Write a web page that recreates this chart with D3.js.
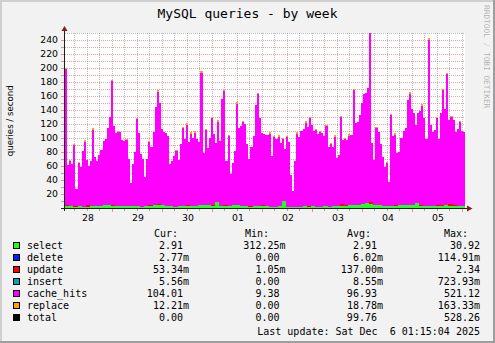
<!DOCTYPE html>
<html><head><meta charset="utf-8">
<script src="https://cdn.jsdelivr.net/npm/d3@7"></script>
<style>
html,body{margin:0;padding:0;background:#F2F2F2;}
svg{display:block;}
text{white-space:pre;}
</style></head><body>
<svg id="c" width="495" height="343"></svg>
<script>
// ---------- data ----------
const chartTitle = "MySQL queries - by week";
const yAxisTitle = "queries / second";
const watermark = "RRDTOOL / TOBI OETIKER";
const startTime = Date.UTC(2025, 10, 28, 1, 15);
const endTime = Date.UTC(2025, 11, 6, 1, 15);
const dayLabels = ["28", "29", "30", "01", "02", "03", "04", "05"];
const yTickValues = [20, 40, 60, 80, 100, 120, 140, 160, 180, 200, 220, 240];

// cache_hits, hourly samples
const cacheHits = [
 195, 58, 65, 60, 88, 25, 62, 56, 80, 93,
 64, 56, 65, 110, 70, 64, 72, 80, 91, 95,
 110, 125, 178, 114, 104, 106, 106, 95, 93, 94,
 67, 33, 60, 77, 125, 104, 75, 68, 42, 67,
 90, 83, 104, 140, 162, 145, 108, 104, 104, 100,
 60, 65, 72, 80, 66, 88, 112, 96, 116, 90,
 104, 97, 105, 95, 90, 190, 74, 107, 82, 96,
 125, 102, 84, 115, 92, 152, 164, 64, 100, 45,
 60, 78, 145, 110, 114, 120, 117, 89, 68, 85,
 100, 145, 160, 125, 104, 102, 101, 101, 105, 72,
 100, 97, 100, 90, 88, 73, 100, 92, 45, 22,
 66, 105, 100, 108, 110, 120, 113, 127, 116, 107,
 110, 103, 107, 105, 100, 115, 85, 90, 85, 100,
 68, 72, 125, 92, 95, 94, 100, 100, 165, 118,
 118, 128, 145, 157, 158, 165, 250, 85, 64, 110,
 105, 88, 70, 55, 62, 35, 130, 100, 100, 74,
 76, 95, 105, 110, 150, 160, 138, 132, 112, 128,
 135, 143, 125, 95, 238, 115, 105, 108, 125, 95,
 132, 165, 138, 188, 120, 125, 122, 105, 110, 120,
 107, 105
];
// select, 2-hour samples
const selectVals = [
 3.5, 2.5, 2.0, 2.5, 2.0, 2.0, 2.5, 2.5, 3.0, 4.0,
 4.5, 3.5, 3.0, 2.5, 3.0, 3.0, 2.5, 2.5, 2.0, 2.5,
 3.0, 4.5, 5.0, 4.0, 3.0, 2.5, 2.0, 3.0, 2.5, 3.5,
 2.5, 3.0, 4.0, 4.5, 4.0, 3.5, 8.5, 3.0, 3.5, 3.0,
 4.0, 4.5, 3.0, 2.5, 2.0, 2.5, 3.0, 3.5, 2.5, 2.0,
 2.0, 2.5, 10.5, 2.0, 2.0, 1.5, 2.0, 2.5, 2.0, 2.5,
 2.0, 2.0, 2.5, 2.0, 2.5, 3.0, 3.0, 3.5, 4.0, 4.0,
 4.5, 5.5, 6.5, 6.0, 4.5, 4.0, 3.0, 2.5, 3.0, 3.5,
 4.5, 4.5, 4.0, 4.0, 7.0, 3.5, 3.0, 3.0, 3.0, 3.5,
 3.5, 4.0, 3.5, 3.5, 3.0, 3.0
];
// update, 2-hour samples
const updateVals = [
 0.1, 0.1, 0.2, 0.1, 0.1, 2.0, 0.1, 0.1, 0.1, 0.2,
 0.1, 0.1, 0.1, 0.1, 0.2, 0.1, 0.1, 0.1, 0.1, 0.1,
 1.5, 0.1, 0.1, 0.2, 0.1, 0.1, 0.1, 0.1, 0.1, 0.1,
 0.2, 0.1, 0.1, 0.1, 0.1, 0.1, 0.1, 0.2, 0.1, 0.1,
 0.1, 0.1, 0.1, 0.1, 0.2, 0.1, 0.1, 0.1, 0.1, 0.1,
 0.1, 0.2, 0.1, 0.1, 0.1, 0.1, 0.1, 0.1, 0.2, 0.1,
 0.1, 0.1, 0.1, 0.1, 0.1, 0.1, 2.3, 0.1, 0.1, 0.1,
 0.2, 0.1, 0.1, 2.0, 0.1, 0.1, 0.1, 0.1, 0.1, 1.5,
 0.1, 0.1, 0.2, 0.1, 0.1, 0.1, 0.1, 0.1, 0.2, 0.1,
 0.1, 0.1, 1.8, 0.1, 0.1, 0.1
];
// replace, 2-hour samples
const replaceVals = [
 0.02, 0.01, 0.03, 0.02, 0.01, 0.02, 0.04, 0.02, 0.01, 0.02,
 0.03, 0.02, 0.01, 0.02, 0.02, 0.05, 0.02, 0.01, 0.02, 0.03,
 0.02, 0.01, 0.02, 0.02, 0.03, 0.01, 0.02, 0.02, 0.04, 0.02,
 0.01, 0.02, 0.03, 0.02, 0.02, 0.01, 0.16, 0.02, 0.03, 0.02,
 0.01, 0.02, 0.02, 0.03, 0.01, 0.02, 0.02, 0.02, 0.04, 0.01,
 0.02, 0.02, 0.03, 0.02, 0.01, 0.02, 0.02, 0.03, 0.02, 0.01,
 0.02, 0.02, 0.01, 0.03, 0.02, 0.02, 0.02, 0.01, 0.03, 0.02,
 0.02, 0.04, 0.02, 0.01, 0.02, 0.03, 0.02, 0.02, 0.01, 0.02,
 0.03, 0.02, 0.02, 0.01, 0.02, 0.02, 0.03, 0.02, 0.01, 0.02,
 0.02, 0.03, 0.02, 0.02, 0.01, 0.02
];

const legendNames  = ["select", "delete", "update", "insert", "cache_hits", "replace", "total"];
const legendColors = ["#22FF22", "#0022FF", "#FF0000", "#00AAAA", "#FF00FF", "#FFA500", "#000000"];
const curText = ["2.91", "2.77m", "53.34m", "5.56m", "104.01", "12.21m", "0.00"];
const minText = ["312.25m", "0.00", "1.05m", "0.00", "9.38", "0.00", "0.00"];
const avgText = ["2.91", "6.02m", "137.00m", "8.55m", "96.93", "18.78m", "99.76"];
const maxText = ["30.92", "114.91m", "2.34", "723.93m", "521.12", "163.33m", "528.26"];
const columnHeaders = ["Cur:", "Min:", "Avg:", "Max:"];
const lastUpdate = "Last update: Sat Dec  6 01:15:04 2025";

// ---------- layout ----------
const W = 495, H = 343;
const L = 65, R = 465, T = 33, B = 208;
const MONO = "'DejaVu Sans Mono', monospace";
const SANS = "'DejaVu Sans', sans-serif";

const x = d3.scaleUtc().domain([startTime, endTime]).range([L, R]);
const y = d3.scaleLinear().domain([0, 250]).range([B, T]);

const svg = d3.select("#c");

// canvas + shade frame
svg.append("rect").attr("width", W).attr("height", H).attr("fill", "#F2F2F2");
const shade = svg.append("g").attr("shape-rendering", "crispEdges");
shade.append("rect").attr("x", 0).attr("y", 0).attr("width", W).attr("height", 2).attr("fill", "#CFCFCF");
shade.append("rect").attr("x", 0).attr("y", 0).attr("width", 2).attr("height", H).attr("fill", "#CFCFCF");
shade.append("rect").attr("x", W - 2).attr("y", 0).attr("width", 2).attr("height", H).attr("fill", "#9E9E9E");
shade.append("rect").attr("x", 0).attr("y", H - 2).attr("width", W).attr("height", 2).attr("fill", "#9E9E9E");

// plot background
svg.append("rect").attr("x", L).attr("y", T).attr("width", R - L).attr("height", B - T).attr("fill", "#FFFFFF");

// grid
const grid = svg.append("g").attr("shape-rendering", "crispEdges");
const yGrid = d3.range(10, 251, 10);
grid.selectAll("line.gy").data(yGrid).join("line")
  .attr("class", "gy")
  .attr("x1", L).attr("x2", R)
  .attr("y1", d => Math.round(y(d)) + 0.5).attr("y2", d => Math.round(y(d)) + 0.5)
  .attr("stroke", d => d === 250 ? "rgba(143,143,143,0.6)" : "rgba(222,80,80,0.55)")
  .attr("stroke-dasharray", "1,1");
const xGrid = d3.utcHour.every(6).range(new Date(startTime), new Date(endTime));
grid.selectAll("line.gx").data(xGrid).join("line")
  .attr("class", "gx")
  .attr("x1", d => Math.floor(x(d)) + 0.5).attr("x2", d => Math.floor(x(d)) + 0.5)
  .attr("y1", T).attr("y2", B)
  .attr("stroke", "rgba(143,143,143,0.6)")
  .attr("stroke-dasharray", "1,1");

// data table (hourly rows, coarser series looked up per 2h block)
const rows = cacheHits.map((c, i) => ({
  t: new Date(startTime + i * 3600e3),
  select: selectVals[Math.floor(i / 2)],
  update: updateVals[Math.floor(i / 2)],
  cache_hits: c,
  replace: replaceVals[Math.floor(i / 2)]
}));
rows.push(Object.assign({}, rows[rows.length - 1], { t: new Date(endTime) }));

const keys = ["select", "update", "cache_hits", "replace"];
const keyColor = { select: "#22FF22", update: "#FF0000", cache_hits: "#FF00FF", replace: "#FFA500" };
const series = d3.stack().keys(keys)(rows);

svg.append("clipPath").attr("id", "pc")
  .append("rect").attr("x", L).attr("y", T).attr("width", R - L).attr("height", B - T);

const area = d3.area().curve(d3.curveStepAfter)
  .x(d => x(d.data.t)).y0(d => y(d[0])).y1(d => y(d[1]));

const dataG = svg.append("g").attr("clip-path", "url(#pc)").attr("shape-rendering", "crispEdges");
const drawOrder = ["cache_hits", "replace", "select", "update"];
drawOrder.forEach(k => {
  const s = series.find(ss => ss.key === k);
  dataG.append("path").datum(s).attr("d", area).attr("fill", keyColor[k]);
});

// replace layer top edge shows as small orange caps on local peaks
const topS = series[series.length - 1];
const caps = [];
for (let i = 0; i < cacheHits.length; i++) {
  const v = topS[i][1];
  const p = i > 0 ? topS[i - 1][1] : 0;
  const n = topS[i + 1] ? topS[i + 1][1] : 0;
  if (v > p && v >= n) caps.push(i);
}
dataG.selectAll("rect.cap").data(caps).join("rect")
  .attr("class", "cap")
  .attr("x", i => x(rows[i].t)).attr("width", i => x(rows[i + 1].t) - x(rows[i].t))
  .attr("y", i => y(topS[i][1]) - 1).attr("height", 1.5)
  .attr("fill", "#FFA500");

// axis ticks
const ticks = svg.append("g").attr("shape-rendering", "crispEdges");
ticks.selectAll("line.ty").data(yGrid.filter(d => d < 250)).join("line")
  .attr("x1", 61).attr("x2", 64)
  .attr("y1", d => Math.round(y(d)) + 0.5).attr("y2", d => Math.round(y(d)) + 0.5)
  .attr("stroke", d => d % 20 === 0 ? "rgba(222,80,80,0.6)" : "rgba(143,143,143,0.75)");
ticks.selectAll("line.tx").data(xGrid).join("line")
  .attr("x1", d => Math.floor(x(d)) + 0.5).attr("x2", d => Math.floor(x(d)) + 0.5)
  .attr("y1", 209).attr("y2", d => d.getUTCHours() === 0 ? 212 : 211)
  .attr("stroke", d => d.getUTCHours() === 0 ? "rgba(222,80,80,0.6)" : "rgba(143,143,143,0.75)");

// axis lines + arrows
const ax = svg.append("g").attr("shape-rendering", "crispEdges");
ax.append("line").attr("x1", 64.5).attr("x2", 64.5).attr("y1", 211).attr("y2", 30).attr("stroke", "#1F1F1F");
ax.append("line").attr("x1", 61).attr("x2", 468).attr("y1", 208.5).attr("y2", 208.5).attr("stroke", "#1F1F1F");
svg.append("path").attr("d", "M61.5,31L67.5,31L64.5,26Z").attr("fill", "#801F1F");
svg.append("path").attr("d", "M467,205.5L467,211.5L472.5,208.5Z").attr("fill", "#801F1F");

// y axis labels
const yAxis = d3.axisLeft(y).tickValues(yTickValues).tickSize(0).tickPadding(7).tickFormat(d3.format("d"));
const gy = svg.append("g").attr("transform", `translate(${L},0)`).call(yAxis);
gy.select(".domain").remove();
gy.selectAll("text").attr("font-family", SANS).attr("font-size", "9.3px").attr("fill", "#000");

// x axis labels at noon of each day
const labelTimes = d3.utcDay.range(d3.utcDay.floor(new Date(startTime)), d3.utcDay.floor(new Date(endTime)))
  .map(d => new Date(+d + 12 * 3600e3));
const xAxis = d3.axisBottom(x).tickValues(labelTimes).tickSize(0).tickPadding(6.2)
  .tickFormat((d, i) => dayLabels[i]);
const gx = svg.append("g").attr("transform", `translate(0,${B})`).call(xAxis);
gx.select(".domain").remove();
gx.selectAll("text").attr("font-family", SANS).attr("font-size", "9.3px").attr("fill", "#000");

// titles
svg.append("text").attr("x", 247.5).attr("y", 18).attr("text-anchor", "middle")
  .attr("font-family", MONO).attr("font-size", "13px").attr("fill", "#000").text(chartTitle);
svg.append("text").attr("transform", "translate(13,120.8) rotate(-90)").attr("text-anchor", "middle")
  .attr("font-family", SANS).attr("font-size", "8.6px").attr("fill", "#000").text(yAxisTitle);
svg.append("text").attr("transform", "translate(483.5,5) rotate(90)").attr("text-anchor", "start")
  .attr("font-family", MONO).attr("font-size", "7.8px").attr("fill", "rgba(0,0,0,0.3)").text(watermark);

// legend
const lg = svg.append("g").attr("font-family", MONO).attr("font-size", "10px").attr("fill", "#000");
const headerX = [154, 245, 347, 444];
lg.selectAll("text.hd").data(columnHeaders).join("text").attr("class", "hd")
  .attr("x", (d, i) => headerX[i]).attr("y", 237).text(d => d);

const rowY = i => 249 + 12 * i;
lg.selectAll("rect.sw").data(legendNames).join("rect").attr("class", "sw")
  .attr("x", 13.5).attr("y", (d, i) => rowY(i) - 6.5).attr("width", 6).attr("height", 6)
  .attr("fill", (d, i) => legendColors[i]).attr("stroke", "#000").attr("stroke-width", 1)
  .attr("shape-rendering", "crispEdges");
lg.selectAll("text.nm").data(legendNames).join("text").attr("class", "nm")
  .attr("x", 27).attr("y", (d, i) => rowY(i)).text(d => d);

const cw = 6.02;
function col(cls, arr, endX, keepSuffix) {
  lg.selectAll("text." + cls).data(arr).join("text").attr("class", cls)
    .attr("text-anchor", "end")
    .attr("x", d => keepSuffix && !d.endsWith("m") ? endX - cw : endX)
    .attr("y", (d, i) => rowY(i)).text(d => d);
}
col("cu", curText, 189, true);
col("mi", minText, 285.5, true);
col("av", avgText, 383, true);
col("mx", maxText, 480, false);

lg.append("text").attr("x", 480).attr("y", 335).attr("text-anchor", "end").text(lastUpdate);
</script>
</body></html>
